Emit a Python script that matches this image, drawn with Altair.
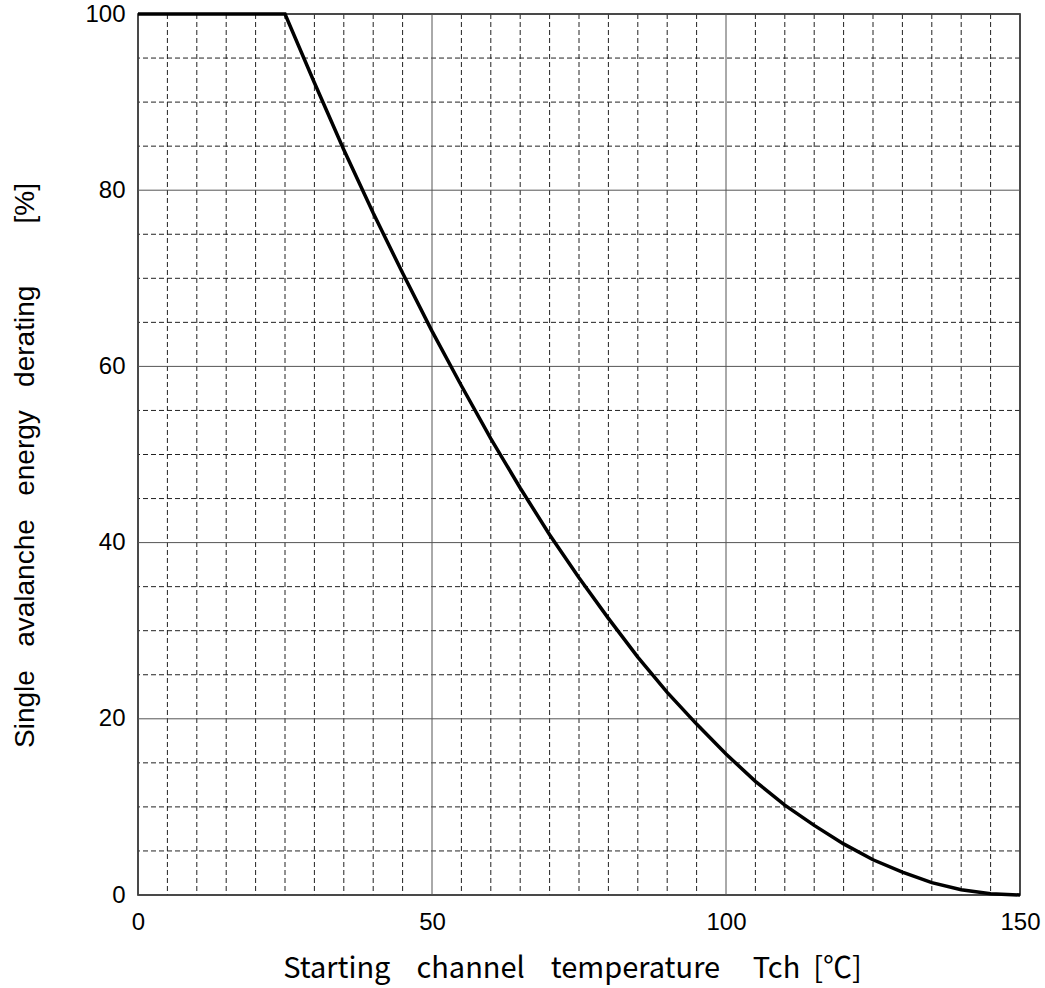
import altair as alt
import pandas as pd

# Curve (Starting channel temperature [°C] vs derating [%])
temp = [0, 25, 30, 35, 40, 45, 50, 55, 60, 65, 70, 75, 80, 85, 90, 95,
        100, 105, 110, 115, 120, 125, 130, 135, 140, 145, 150]
derating = [100, 100, 92.2, 84.6, 77.4, 70.6, 64.0, 57.8, 51.8, 46.2, 40.9,
            36.0, 31.4, 27.0, 23.0, 19.4, 16.0, 12.9, 10.2, 7.9, 5.8, 4.0,
            2.6, 1.4, 0.6, 0.15, 0]

x_ticks = [0, 50, 100, 150]
y_ticks = [0, 20, 40, 60, 80, 100]
x_minor = [v for v in range(5, 150, 5) if v not in x_ticks]
y_minor = [v for v in range(5, 100, 5) if v not in y_ticks]

NB = "\u00a0"
x_title = "Starting" + NB * 4 + "channel" + NB * 4 + "temperature" + NB * 5 + "Tch" + NB * 2 + "[℃]"
y_title = ("Single" + NB * 3 + "avalanche" + NB * 3 + "energy" + NB * 3 + "derating"
           + NB * 8 + "[%]")

curve = pd.DataFrame({"t": temp, "d": derating})
xm = pd.DataFrame({"t": x_minor})
ym = pd.DataFrame({"d": y_minor})
xM = pd.DataFrame({"t": x_ticks})
yM = pd.DataFrame({"d": y_ticks})

xs = alt.Scale(domain=[0, 150], nice=False, zero=False)
ys = alt.Scale(domain=[0, 100], nice=False, zero=False)

xaxis = alt.Axis(values=x_ticks, grid=False, ticks=False, tickSize=0,
                 domain=False, labelPadding=15, labelFontSize=24,
                 labelFont="Liberation Sans", labelColor="black",
                 labelFlush=False,
                 title=x_title, titleFont="Noto Sans CJK JP",
                 titleFontSize=29, titleFontWeight="normal",
                 titleColor="black", titleAlign="center",
                 titleBaseline="alphabetic", titleX=434, titleY=82)
yaxis = alt.Axis(values=y_ticks, grid=False, ticks=False, tickSize=0,
                 domain=False, labelPadding=13, labelFontSize=24,
                 labelFont="Liberation Sans", labelColor="black",
                 labelFlush=False,
                 title=y_title, titleFont="Liberation Sans",
                 titleFontSize=28, titleFontWeight="normal",
                 titleColor="black", titleAlign="center",
                 titleBaseline="alphabetic", titleAngle=270,
                 titleX=-105, titleY=451)

X = alt.X("t:Q", scale=xs, axis=xaxis)
Y = alt.Y("d:Q", scale=ys, axis=yaxis)

dash = dict(strokeDash=[5, 3], color="#222222", strokeWidth=1)
solid = dict(color="#555555", strokeWidth=1)

l1 = alt.Chart(xm).mark_rule(**dash).encode(x=X)
l2 = alt.Chart(ym).mark_rule(**dash).encode(y=Y)
l3 = alt.Chart(xM).mark_rule(**solid).encode(x=X)
l4 = alt.Chart(yM).mark_rule(**solid).encode(y=Y)

line = alt.Chart(curve).mark_line(color="black", strokeWidth=3.5).encode(
    x=X, y=Y, order="t:Q",
)

chart = alt.layer(l1, l2, l3, l4, line).properties(
    width=882, height=881,
    autosize=alt.AutoSizeParams(type="none"),
    padding={"left": 138, "top": 14, "right": 25, "bottom": 93},
    background="white",
).configure_view(stroke="black", strokeWidth=1.5)

chart.save("out.html", embed_options={"renderer": "svg", "actions": False})
